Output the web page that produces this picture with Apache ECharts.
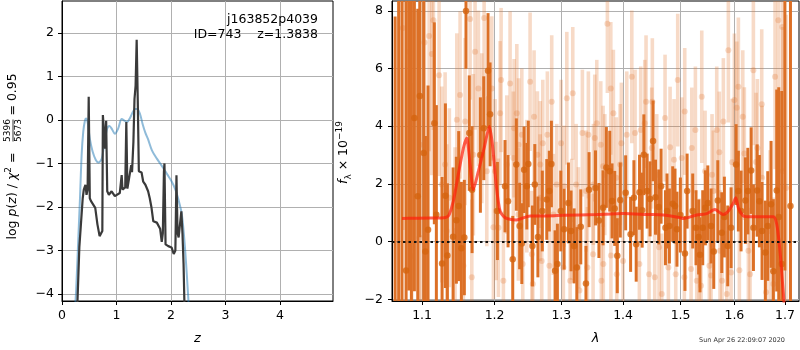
<!DOCTYPE html>
<html><head><meta charset="utf-8">
<script src="https://cdn.jsdelivr.net/npm/echarts@6/dist/echarts.min.js"></script>
<style>html,body{margin:0;padding:0;background:#fff}#c{width:800px;height:350px}</style>
</head><body><div id="c"></div>
<script>
// ---------- Left panel: log p(z) ----------
const pzBlueZ = [0.23,0.26,0.30,0.33,0.36,0.39,0.42,0.44,0.47,0.51,0.56,0.62,0.67,0.73,0.78,0.83,0.87,0.92,0.97,1.03,1.095,1.15,1.19,1.25,1.30,1.34,1.38,1.43,1.48,1.53,1.58,1.65,1.74,1.80,1.86,1.93,2.01,2.08,2.13,2.20,2.26,2.32,2.34];
const pzBlueLogP = [-4.5,-3.9,-2.7,-1.8,-0.81,-0.27,-0.02,0.03,-0.05,-0.43,-0.72,-0.92,-0.98,-0.89,-0.5,-0.2,-0.14,-0.22,-0.32,-0.2,0.02,-0.02,-0.05,0.05,0.18,0.25,0.25,0.14,-0.1,-0.3,-0.45,-0.7,-0.89,-1.0,-1.11,-1.25,-1.41,-1.6,-1.8,-2.18,-3.0,-4.16,-4.6];
const pzDarkZ = [0.275,0.318,0.33,0.38,0.40,0.43,0.45,0.47,0.49,0.50,0.51,0.53,0.61,0.65,0.69,0.72,0.74,0.75,0.77,0.79,0.81,0.83,0.86,0.91,0.97,1.0,1.06,1.095,1.11,1.16,1.18,1.2,1.23,1.27,1.285,1.31,1.33,1.35,1.37,1.39,1.41,1.43,1.46,1.49,1.53,1.58,1.61,1.64,1.675,1.74,1.77,1.80,1.83,1.85,1.87,1.88,1.90,1.95,2.01,2.05,2.08,2.10,2.12,2.14,2.16,2.19,2.21,2.23,2.245,2.25];
const pzDarkLogP = [-4.5,-2.93,-2.9,-1.8,-1.6,-1.49,-1.72,-1.6,0.53,0.5,-1.8,-1.86,-2.02,-2.4,-2.67,-2.67,-2.55,0.11,-0.27,-0.66,-0.02,-1.64,-1.72,-1.64,-1.75,-1.77,-1.68,-1.27,-1.6,-1.55,-0.05,-1.58,-1.55,-1.04,-1.2,-0.51,0.48,0.78,1.84,0.45,-1.18,-1.22,-1.21,-1.42,-1.49,-1.64,-1.8,-2.0,-2.33,-2.36,-2.33,-2.5,-2.8,-2.6,-1.19,-1.0,-2.86,-2.9,-2.93,-3.08,-3.0,-1.27,-2.6,-2.7,-2.45,-2.1,-2.6,-3.3,-4.16,-4.5];
const leftXTicks = [0,1,2,3,4];
const leftYTicks = [-4,-3,-2,-1,0,1,2];

// ---------- Right panel: spectrum ----------
const specDarkWave = [1.0650,1.0695,1.0738,1.0791,1.0826,1.0860,1.0899,1.0943,1.0970,1.1022,1.1044,1.1079,1.1163,1.1190,1.1267,1.1312,1.1339,1.1417,1.1462,1.1494,1.1531,1.1572,1.1595,1.1641,1.1680,1.1797,1.1845,1.1906,1.1935,1.2040,1.2151,1.2195,1.2264,1.2317,1.2366,1.2398,1.2432,1.2473,1.2495,1.2557,1.2593,1.2640,1.2707,1.2775,1.2814,1.2846,1.2903,1.2939,1.2992,1.3043,1.3111,1.3153,1.3201,1.3244,1.3307,1.3390,1.3440,1.3544,1.3600,1.3668,1.3722,1.3778,1.3816,1.3860,1.3903,1.3953,1.4043,1.4127,1.4183,1.4222,1.4279,1.4324,1.4353,1.4410,1.4461,1.4513,1.4555,1.4612,1.4653,1.4730,1.4758,1.4800,1.4859,1.4900,1.4935,1.4996,1.5079,1.5118,1.5220,1.5280,1.5329,1.5353,1.5404,1.5453,1.5498,1.5559,1.5609,1.5685,1.5760,1.5809,1.5873,1.5937,1.6033,1.6077,1.6129,1.6213,1.6260,1.6325,1.6370,1.6443,1.6488,1.6540,1.6606,1.6654,1.6720,1.6766,1.6834,1.6875,1.6936,1.7000,1.7114];
const specDarkFlux = [-4.5,12.0,-6.0,-1.0,9.5,11.0,4.28,1.57,5.05,3.07,-0.34,0.41,4.10,0.93,-0.76,1.59,-0.48,0.17,0.74,1.23,-0.23,0.14,7.99,3.76,1.80,3.00,3.93,5.92,4.41,1.06,1.92,1.40,-0.61,2.67,0.54,-0.07,2.49,1.92,2.69,-0.15,1.98,0.16,1.06,1.46,1.75,2.69,-1.01,-0.78,1.06,0.43,1.34,0.37,-0.15,-0.90,0.51,-1.45,1.80,1.86,0.73,1.17,2.57,2.44,1.41,1.15,-0.49,1.44,1.69,0.25,1.52,-0.09,1.71,1.09,3.01,1.75,1.48,3.49,1.54,1.20,1.92,0.48,1.06,0.54,1.31,1.23,0.43,0.92,-0.41,1.75,1.06,0.48,0.16,-0.46,0.48,1.17,1.34,0.54,-0.34,1.42,0.31,0.85,-0.15,0.48,2.67,1.75,1.06,1.42,1.75,2.46,0.48,1.77,1.40,0.37,-0.38,0.54,1.29,-1.03,1.77,0.85,-0.78,12.0,1.23];
const specDarkErr = [12.3,14.5,15.0,9.5,11.2,13.5,6.0,6.5,4.9,5.5,4.0,5.0,3.5,3.8,3.0,3.2,2.5,2.4,2.2,2.6,2.3,2.0,2.0,2.0,2.2,2.0,1.8,2.0,1.8,1.7,1.6,1.6,1.5,1.6,1.5,1.4,1.5,1.5,1.5,1.4,1.4,1.4,1.4,1.4,1.4,1.5,1.4,1.4,1.4,1.4,1.4,1.4,1.3,1.4,1.3,1.3,1.3,1.3,1.3,1.3,1.4,1.4,1.3,1.3,1.3,1.3,1.3,1.3,1.3,1.3,1.3,1.3,1.4,1.3,1.3,1.4,1.3,1.3,1.3,1.3,1.3,1.3,1.3,1.3,1.3,1.3,1.3,1.3,1.3,1.3,1.3,1.3,1.3,1.3,1.3,1.3,1.3,1.4,1.4,1.4,1.4,1.4,1.4,1.4,1.4,1.5,1.5,1.5,1.5,1.6,1.6,1.7,1.8,1.9,2.2,2.5,3.5,4.5,6.0,13.0,10.0];

const specLightWave = [1.0749,1.0834,1.0865,1.0965,1.0974,1.1031,1.1093,1.1129,1.1150,1.1227,1.1263,1.1308,1.1331,1.1366,1.1444,1.1468,1.1513,1.1559,1.1583,1.1652,1.1676,1.1698,1.1722,1.1769,1.1817,1.1850,1.1888,1.1960,1.1983,1.2007,1.2022,1.2055,1.2079,1.2094,1.2127,1.2177,1.2225,1.2273,1.2284,1.2324,1.2347,1.2350,1.2398,1.2412,1.2473,1.2522,1.2548,1.2563,1.2582,1.2632,1.2673,1.2676,1.2698,1.2714,1.2784,1.2815,1.2851,1.2876,1.2929,1.2996,1.3032,1.3043,1.3086,1.3138,1.3164,1.3180,1.3233,1.3270,1.3286,1.3333,1.3392,1.3413,1.3429,1.3505,1.3510,1.3532,1.3565,1.3630,1.3640,1.3668,1.3672,1.3696,1.3739,1.3795,1.3797,1.3838,1.3888,1.3894,1.3950,1.3971,1.4000,1.4062,1.4147,1.4203,1.4276,1.4300,1.4369,1.4391,1.4443,1.4490,1.4500,1.4542,1.4577,1.4617,1.4665,1.4723,1.4782,1.4812,1.4883,1.4913,1.4949,1.5021,1.5068,1.5075,1.5190,1.5203,1.5269,1.5294,1.5342,1.5373,1.5386,1.5447,1.5527,1.5559,1.5577,1.5601,1.5665,1.5714,1.5727,1.5765,1.5790,1.5855,1.5885,1.5937,1.5956,1.6000,1.6046,1.6077,1.6096,1.6162,1.6193,1.6271,1.6304,1.6369,1.6422,1.6448,1.6534,1.6540,1.6620,1.6700,1.6766,1.6800,1.6866,1.6947,1.6955,1.7023];
const specLightFlux = [7.4,6.58,-0.5,0.14,3.36,6.9,7.13,6.5,7.67,5.77,1.98,2.67,0.37,1.52,0.37,4.22,5.08,-0.84,4.16,7.72,-1.24,3.01,6.58,5.31,3.93,7.75,2.44,5.31,0.50,2.44,1.06,0.48,4.45,5.60,-1.36,2.67,5.48,2.90,3.93,4.45,0.94,3.36,3.70,-0.78,1.92,5.54,-0.44,-1.47,4.33,3.01,1.52,2.67,-0.67,3.41,3.70,-0.84,4.85,0.94,1.98,3.41,-0.90,1.92,4.97,-1.36,0.77,5.14,1.98,0.48,-1.70,3.76,1.75,-0.90,3.70,-0.44,1.98,3.59,4.10,3.36,-1.36,2.61,-0.78,2.32,7.55,5.31,-0.48,4.45,2.21,-1.13,2.67,3.41,-0.67,3.70,5.71,3.76,-0.78,3.87,4.10,4.85,-1.13,3.24,4.85,-1.24,2.32,-0.20,-1.82,4.28,-0.90,3.27,2.84,-1.13,5.60,2.90,-1.24,4.51,-0.95,3.24,3.87,-1.36,-0.61,-1.53,5.02,2.44,-0.84,-1.18,2.32,1.75,3.87,3.10,-0.32,-1.36,4.16,-1.82,6.63,-1.07,2.75,4.91,4.64,5.37,-0.99,4.33,3.05,-0.32,-1.13,5.94,2.76,3.24,4.76,2.21,-1.76,0.37,-1.47,5.71,7.67,7.44,2.44,1.86];
const specLightErr = [7.0,6.5,6.0,5.0,5.5,4.5,4.0,4.2,3.8,3.5,3.4,3.2,3.0,3.1,2.9,3.0,2.9,2.8,2.9,2.8,2.7,2.8,2.7,2.7,2.6,2.7,2.6,2.5,2.5,2.5,2.4,2.4,2.5,2.5,2.4,2.4,2.5,2.3,2.4,2.4,2.3,2.3,2.3,2.2,2.3,2.4,2.2,2.2,2.3,2.2,2.2,2.2,2.2,2.2,2.2,2.1,2.3,2.1,2.1,2.2,2.1,2.1,2.3,2.1,2.1,2.3,2.1,2.1,2.1,2.2,2.1,2.1,2.2,2.1,2.1,2.2,2.2,2.2,2.1,2.1,2.1,2.1,2.4,2.3,2.1,2.2,2.1,2.1,2.1,2.1,2.1,2.2,2.3,2.2,2.1,2.2,2.2,2.3,2.1,2.1,2.2,2.1,2.1,2.1,2.1,2.2,2.1,2.1,2.1,2.1,2.3,2.1,2.1,2.2,2.1,2.1,2.2,2.1,2.1,2.1,2.3,2.1,2.1,2.1,2.1,2.1,2.2,2.1,2.1,2.1,2.2,2.2,2.5,2.2,2.2,2.3,2.3,2.4,2.2,2.3,2.3,2.3,2.3,2.6,2.4,2.4,2.6,2.5,2.6,2.8,3.0,3.2,4.0,5.0,5.0,6.0];

const modelWave = [1.0738,1.0900,1.1100,1.1250,1.1330,1.1365,1.1420,1.1488,1.1559,1.1605,1.1652,1.1698,1.1769,1.1850,1.1926,1.1974,1.2022,1.2079,1.2151,1.2317,1.2522,1.2775,1.3032,1.3567,1.4005,1.4404,1.4693,1.4990,1.5049,1.5292,1.5478,1.5632,1.5727,1.5790,1.5886,1.5981,1.6027,1.6077,1.6174,1.6306,1.6766,1.6834,1.6900,1.6953,1.6980,1.7000];
const modelFlux = [0.80,0.81,0.82,0.82,0.85,0.94,1.40,2.32,3.24,3.59,2.67,1.80,2.44,3.24,3.99,3.24,1.98,1.06,0.83,0.75,0.89,0.89,0.91,0.94,0.97,0.94,0.92,0.83,0.80,0.92,0.97,1.11,1.0,0.94,1.06,1.34,1.52,1.17,0.89,0.86,0.86,0.6,-0.32,-1.47,-2.05,-3.0];
const rightXTicks = [1.1,1.2,1.3,1.4,1.5,1.6,1.7];
const rightYTicks = [-2,0,2,4,6,8];

// ---------- build ----------
const FONT = 'DejaVu Sans';
const zip2 = (a,b) => a.map((v,i)=>[v,b[i]]);
const zip3 = (a,b,c) => a.map((v,i)=>[v,b[i],c[i]]);
const minus = v => (v < 0 ? '\u2212' + Math.abs(v) : String(v));

function errRender(color, width) {
  return function (params, api) {
    const x = api.value(0), y = api.value(1), e = api.value(2);
    const p1 = api.coord([x, y + e]);
    const p2 = api.coord([x, y - e]);
    return {type:'line', shape:{x1:p1[0], y1:p1[1], x2:p2[0], y2:p2[1]},
            style:{stroke:color, lineWidth:width}};
  };
}

function baseAxis(extra) {
  return Object.assign({
    axisLine:{show:true, onZero:false, lineStyle:{color:'#000', width:1}},
    splitLine:{show:true, lineStyle:{color:'#b0b0b0', width:1}}
  }, extra);
}
const tick = vals => ({show:true, length:4, lineStyle:{color:'#000'}, customValues:vals});
const lab = (vals, margin, fmt) => ({color:'#000', fontSize:12.5, fontFamily:FONT, margin:margin, customValues:vals, formatter:fmt});

const richBase = {
  n:{fontSize:12.5, fontFamily:FONT, lineHeight:18, fill:'#000'},
  i:{fontSize:12.5, fontFamily:FONT, fontStyle:'italic', lineHeight:18, fill:'#000'},
  sup:{fontSize:9, fontFamily:FONT, lineHeight:11, verticalAlign:'top', fill:'#000'},
  sub:{fontSize:9, fontFamily:FONT, lineHeight:10, verticalAlign:'bottom', fill:'#000'}
};

const option = {
  animation:false,
  backgroundColor:'#fff',
  grid:[
    {left:62, top:1, width:271, height:303, show:true, borderColor:'#000', borderWidth:1, containLabel:false},
    {left:392, top:1, width:407, height:303, show:true, borderColor:'#000', borderWidth:1, containLabel:false}
  ],
  xAxis:[
    baseAxis({gridIndex:0, type:'value', min:0, max:4.972,
      axisTick:tick(leftXTicks), axisLabel:lab(leftXTicks, 8, minus),
      name:'z', nameLocation:'middle', nameGap:31,
      nameTextStyle:{fontStyle:'italic', fontSize:13, fontFamily:FONT, color:'#000'}}),
    baseAxis({gridIndex:1, type:'log', logBase:10, min:1.061, max:1.729,
      axisTick:tick(rightXTicks), axisLabel:lab(rightXTicks, 8, v=>Number(v).toFixed(1)),
      minorTick:{show:false}, minorSplitLine:{show:false},
      name:'λ', nameLocation:'middle', nameGap:31,
      nameTextStyle:{fontStyle:'italic', fontSize:13, fontFamily:FONT, color:'#000'}})
  ],
  yAxis:[
    baseAxis({gridIndex:0, type:'value', min:-4.16, max:2.73,
      axisTick:tick(leftYTicks), axisLabel:lab(leftYTicks, 8, minus)}),
    baseAxis({gridIndex:1, type:'value', min:-2.06, max:8.34,
      axisTick:tick(rightYTicks), axisLabel:lab(rightYTicks, 9, minus)})
  ],
  series:[
    {type:'line', xAxisIndex:0, yAxisIndex:0, data:zip2(pzBlueZ, pzBlueLogP), showSymbol:false, smooth:0.3,
     lineStyle:{color:'rgba(31,119,180,0.5)', width:2}, clip:true, z:2},
    {type:'line', xAxisIndex:0, yAxisIndex:0, data:zip2(pzDarkZ, pzDarkLogP), showSymbol:false,
     lineStyle:{color:'#3a3a3a', width:2.2}, clip:true, z:3},
    {type:'custom', xAxisIndex:1, yAxisIndex:1, data:zip3(specLightWave, specLightFlux, specLightErr),
     renderItem:errRender('rgba(224,118,48,0.27)', 3.6), clip:true, encode:{x:0, y:1}, z:2},
    {type:'scatter', xAxisIndex:1, yAxisIndex:1, data:zip2(specLightWave, specLightFlux), symbolSize:6,
     itemStyle:{color:'rgba(224,118,48,0.33)'}, clip:true, z:2},
    {type:'custom', xAxisIndex:1, yAxisIndex:1, data:zip3(specDarkWave, specDarkFlux, specDarkErr),
     renderItem:errRender('#dc7026', 3), clip:true, encode:{x:0, y:1}, z:3},
    {type:'scatter', xAxisIndex:1, yAxisIndex:1, data:zip2(specDarkWave, specDarkFlux), symbolSize:6.5,
     itemStyle:{color:'#d5640f'}, clip:true, z:3,
     markLine:{silent:true, symbol:'none', label:{show:false}, animation:false,
       lineStyle:{color:'#111', type:[2.5,3], width:2}, data:[{yAxis:0}]}},
    {type:'line', xAxisIndex:1, yAxisIndex:1, data:zip2(modelWave, modelFlux), showSymbol:false, smooth:0.25,
     lineStyle:{color:'rgba(255,30,10,0.7)', width:3}, clip:true, z:4}
  ],
  graphic:[
    {type:'text', x:318, y:20, z:10, style:{text:'j163852p4039', fill:'#000', fontSize:12.5, fontFamily:FONT, align:'right', verticalAlign:'middle'}},
    {type:'text', x:318, y:35, z:10, style:{text:'ID=743    z=1.3838', fill:'#000', fontSize:12.5, fontFamily:FONT, align:'right', verticalAlign:'middle'}},
    {type:'group', x:13, y:152.5, rotation:Math.PI/2, children:[
      {type:'text', x:-87, y:0, style:{text:'{n|log }{i|p}{n|(}{i|z}{n|) / }{i|χ}{sup|2}{n| = }', rich:richBase, align:'left', verticalAlign:'middle'}},
      {type:'text', x:22, y:-5, style:{text:'5396', fill:'#000', fontSize:9, fontFamily:FONT, align:'center', verticalAlign:'middle'}},
      {type:'line', shape:{x1:11, y1:0, x2:33, y2:0}, style:{stroke:'#000', lineWidth:0.8}},
      {type:'text', x:22, y:5.5, style:{text:'5673', fill:'#000', fontSize:9, fontFamily:FONT, align:'center', verticalAlign:'middle'}},
      {type:'text', x:33, y:0, style:{text:' = 0.95', fill:'#000', fontSize:12.5, fontFamily:FONT, align:'left', verticalAlign:'middle'}}
    ]},
    {type:'group', x:344, y:152.5, rotation:Math.PI/2, children:[
      {type:'text', x:0, y:0, style:{text:'{i|f}{sub|λ}{n| × 10}{sup|−19}', rich:richBase, align:'center', verticalAlign:'middle'}}
    ]},
    {type:'text', x:742, y:340, style:{text:'Sun Apr 26 22:09:07 2020', fill:'#333', fontSize:6.5, fontFamily:FONT, align:'center', verticalAlign:'middle'}}
  ]
};

const chart = echarts.init(document.getElementById('c'), null, {renderer:'canvas', width:800, height:350});
chart.setOption(option);
</script>
</body></html>
